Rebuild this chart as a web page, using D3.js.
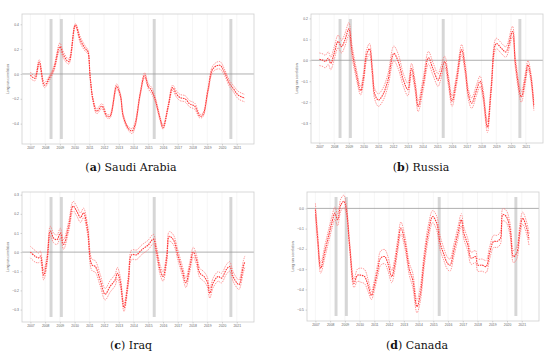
<!DOCTYPE html>
<html>
<head>
<meta charset="utf-8">
<script src="https://cdn.jsdelivr.net/npm/d3@7"></script>
<style>
  body { margin: 0; background: #fff; }
  svg { display: block; }
</style>
</head>
<body>
<div id="chart"></div>
<script>
// each row: [year, long run correlation, half width of the band]
var saudi = [
  [2007.0, -0.01, 0.025], [2007.3, -0.035, 0.02], [2007.6, 0.095, 0.02],
  [2007.95, -0.09, 0.02], [2008.3, -0.03, 0.02], [2008.6, 0.045, 0.02],
  [2009.0, 0.22, 0.03], [2009.25, 0.15, 0.025], [2009.6, 0.10, 0.02],
  [2010.05, 0.395, 0.01], [2010.4, 0.27, 0.025], [2010.75, 0.20, 0.02],
  [2010.9, 0.18, 0.015], [2011.05, -0.02, 0.01], [2011.25, -0.21, 0.015],
  [2011.5, -0.30, 0.02], [2011.85, -0.26, 0.02], [2012.2, -0.34, 0.015],
  [2012.4, -0.34, 0.015], [2012.85, -0.10, 0.02], [2013.1, -0.17, 0.015],
  [2013.3, -0.34, 0.015], [2013.65, -0.44, 0.015], [2013.9, -0.46, 0.02],
  [2014.1, -0.41, 0.02], [2014.45, -0.16, 0.015], [2014.75, -0.01, 0.02],
  [2015.0, -0.10, 0.02], [2015.2, -0.13, 0.025], [2015.45, -0.20, 0.02],
  [2015.8, -0.36, 0.015], [2016.0, -0.43, 0.015], [2016.35, -0.26, 0.015],
  [2016.65, -0.11, 0.02], [2016.9, -0.16, 0.025], [2017.15, -0.19, 0.025],
  [2017.5, -0.20, 0.025], [2017.8, -0.24, 0.025], [2018.15, -0.26, 0.025],
  [2018.5, -0.34, 0.015], [2018.7, -0.33, 0.015], [2019.05, -0.13, 0.02],
  [2019.4, 0.045, 0.025], [2019.85, 0.07, 0.03], [2020.2, 0.005, 0.025],
  [2020.5, -0.075, 0.025], [2020.75, -0.115, 0.025], [2021.1, -0.17, 0.03],
  [2021.55, -0.195, 0.03]
]

var russia = [
  [2007.0, 0.005, 0.03], [2007.25, 0.0, 0.03], [2007.4, -0.006, 0.03],
  [2007.6, 0.01, 0.03], [2007.77, -0.015, 0.03], [2008.0, 0.033, 0.03],
  [2008.27, 0.09, 0.03], [2008.5, 0.065, 0.03], [2008.72, 0.095, 0.03],
  [2009.0, 0.15, 0.03], [2009.2, 0.05, 0.03], [2009.45, -0.045, 0.025],
  [2009.8, -0.145, 0.02], [2010.0, -0.08, 0.025], [2010.2, 0.025, 0.025],
  [2010.4, 0.055, 0.025], [2010.6, -0.06, 0.025], [2010.75, -0.16, 0.025],
  [2011.0, -0.19, 0.03], [2011.3, -0.165, 0.03], [2011.65, -0.095, 0.03],
  [2012.05, 0.033, 0.035], [2012.35, -0.006, 0.035], [2012.7, -0.095, 0.03],
  [2013.0, -0.14, 0.03], [2013.25, -0.04, 0.025], [2013.5, -0.125, 0.025],
  [2013.7, -0.22, 0.025], [2014.05, -0.11, 0.03], [2014.4, 0.012, 0.03],
  [2014.7, -0.04, 0.03], [2015.05, -0.095, 0.03], [2015.2, -0.07, 0.03],
  [2015.5, -0.006, 0.025], [2015.75, -0.095, 0.025], [2016.0, -0.195, 0.025],
  [2016.3, -0.095, 0.025], [2016.65, 0.05, 0.025], [2016.9, -0.045, 0.025],
  [2017.1, -0.16, 0.025], [2017.33, -0.205, 0.025], [2017.67, -0.14, 0.025],
  [2017.9, -0.10, 0.025], [2018.1, -0.16, 0.025], [2018.4, -0.32, 0.025],
  [2018.65, -0.14, 0.025], [2019.0, 0.08, 0.025], [2019.35, 0.057, 0.025],
  [2019.65, 0.04, 0.025], [2020.1, 0.137, 0.025], [2020.3, -0.015, 0.025],
  [2020.7, -0.175, 0.025], [2020.95, -0.095, 0.025], [2021.15, -0.022, 0.02],
  [2021.35, -0.08, 0.02], [2021.55, -0.22, 0.02]
]

var iraq = [
  [2007.0, 0.0, 0.03], [2007.34, -0.023, 0.03], [2007.56, -0.03, 0.025],
  [2007.68, -0.02, 0.025], [2007.9, -0.12, 0.025], [2008.13, -0.04, 0.025],
  [2008.35, 0.11, 0.025], [2008.58, 0.073, 0.025], [2008.8, 0.065, 0.025],
  [2009.03, 0.10, 0.025], [2009.25, 0.04, 0.025], [2009.6, 0.135, 0.025],
  [2009.9, 0.24, 0.025], [2010.15, 0.213, 0.025], [2010.4, 0.18, 0.025],
  [2010.6, 0.205, 0.025], [2010.88, 0.117, 0.025], [2011.17, -0.066, 0.03],
  [2011.4, -0.075, 0.03], [2011.73, -0.145, 0.03], [2012.07, -0.22, 0.03],
  [2012.4, -0.18, 0.03], [2012.75, -0.145, 0.03], [2012.9, -0.11, 0.03],
  [2013.1, -0.155, 0.025], [2013.35, -0.29, 0.02], [2013.65, -0.145, 0.025],
  [2013.87, -0.014, 0.025], [2014.2, -0.014, 0.025], [2014.55, 0.012, 0.025],
  [2015.0, 0.038, 0.025], [2015.34, 0.068, 0.025], [2015.56, 0.003, 0.025],
  [2015.8, -0.092, 0.025], [2016.0, -0.127, 0.025], [2016.25, -0.03, 0.025],
  [2016.42, 0.082, 0.025], [2016.7, 0.065, 0.025], [2017.03, -0.023, 0.025],
  [2017.32, -0.10, 0.025], [2017.55, -0.16, 0.025], [2017.82, -0.075, 0.025],
  [2018.05, 0.0, 0.025], [2018.27, -0.04, 0.025], [2018.5, -0.11, 0.025],
  [2018.77, -0.127, 0.025], [2019.0, -0.155, 0.025], [2019.17, -0.215, 0.025],
  [2019.4, -0.16, 0.025], [2019.74, -0.127, 0.025], [2019.96, -0.136, 0.025],
  [2020.3, -0.09, 0.025], [2020.52, -0.075, 0.025], [2020.75, -0.127, 0.025],
  [2021.0, -0.16, 0.025], [2021.15, -0.17, 0.025], [2021.45, -0.075, 0.03],
  [2021.55, -0.05, 0.03]
]

var canada = [
  [2007.0, -0.005, 0.03], [2007.16, -0.155, 0.03], [2007.36, -0.295, 0.025],
  [2007.65, -0.21, 0.03], [2007.88, -0.14, 0.03], [2008.14, -0.064, 0.03],
  [2008.32, -0.023, 0.03], [2008.5, -0.056, 0.03], [2008.73, 0.018, 0.03],
  [2008.93, 0.035, 0.03], [2009.1, -0.007, 0.025], [2009.33, -0.19, 0.02],
  [2009.62, -0.37, 0.02], [2009.85, -0.33, 0.03], [2010.1, -0.33, 0.035],
  [2010.34, -0.337, 0.035], [2010.57, -0.38, 0.03], [2010.8, -0.43, 0.02],
  [2011.0, -0.38, 0.025], [2011.24, -0.30, 0.03], [2011.42, -0.246, 0.035],
  [2011.7, -0.238, 0.035], [2011.91, -0.27, 0.035], [2012.18, -0.337, 0.03],
  [2012.36, -0.287, 0.03], [2012.59, -0.18, 0.03], [2012.8, -0.097, 0.03],
  [2013.08, -0.17, 0.03], [2013.37, -0.30, 0.03], [2013.6, -0.353, 0.035],
  [2013.89, -0.485, 0.03], [2014.11, -0.427, 0.035], [2014.38, -0.254, 0.035],
  [2014.65, -0.122, 0.035], [2014.96, -0.04, 0.03], [2015.23, -0.073, 0.035],
  [2015.46, -0.17, 0.035], [2015.73, -0.23, 0.03], [2015.95, -0.27, 0.03],
  [2016.13, -0.28, 0.03], [2016.4, -0.205, 0.03], [2016.67, -0.122, 0.03],
  [2016.9, -0.056, 0.03], [2017.07, -0.122, 0.03], [2017.34, -0.18, 0.03],
  [2017.57, -0.246, 0.03], [2017.86, -0.238, 0.03], [2018.02, -0.28, 0.03],
  [2018.31, -0.28, 0.03], [2018.58, -0.287, 0.03], [2018.82, -0.22, 0.03],
  [2019.09, -0.163, 0.03], [2019.32, -0.163, 0.03], [2019.55, -0.147, 0.03],
  [2019.72, -0.031, 0.03], [2019.95, -0.04, 0.03], [2020.21, -0.105, 0.03],
  [2020.44, -0.238, 0.03], [2020.66, -0.22, 0.03], [2020.88, -0.105, 0.03],
  [2021.06, -0.048, 0.03], [2021.33, -0.097, 0.03], [2021.5, -0.155, 0.03]
]

// shaded periods, [start, end] in years
var shaded = [[2008.3, 2008.5], [2009.0, 2009.2], [2015.3, 2015.5], [2020.5, 2020.7]]

var years = d3.range(2007, 2022)
var saudiTicks = [-0.4, -0.2, 0, 0.2, 0.4]
var russiaTicks = [-0.3, -0.2, -0.1, 0, 0.1, 0.2]
var iraqTicks = [-0.3, -0.2, -0.1, 0, 0.1, 0.2, 0.3]
var canadaTicks = [-0.5, -0.4, -0.3, -0.2, -0.1, 0]

var panels = [
  { letter: "a", name: "Saudi Arabia", data: saudi, ticks: saudiTicks, y: [-0.564, 0.483],
    x0: 22, y0: 14, w: 232, h: 130, cx: 131, cy: 171 },
  { letter: "b", name: "Russia", data: russia, ticks: russiaTicks, y: [-0.395, 0.221],
    x0: 311, y0: 14, w: 232, h: 129, cx: 421, cy: 171 },
  { letter: "c", name: "Iraq", data: iraq, ticks: iraqTicks, y: [-0.365, 0.314],
    x0: 22, y0: 192, w: 232, h: 130, cx: 131, cy: 349 },
  { letter: "d", name: "Canada", data: canada, ticks: canadaTicks, y: [-0.556, 0.081],
    x0: 307, y0: 192, w: 232, h: 129, cx: 417, cy: 349 }
]

var svg = d3.select("#chart").append("svg")
  .attr("width", 550)
  .attr("height", 359)

panels.forEach(function (p) {
  var g = svg.append("g").attr("transform", "translate(" + p.x0 + "," + p.y0 + ")")

  var x = d3.scaleLinear().domain([2006.43, 2022.17]).range([0, p.w])
  var y = d3.scaleLinear().domain(p.y).range([p.h, 0])

  // vertical grid
  g.append("g").selectAll("line")
    .data(years)
    .join("line")
    .attr("x1", d => x(d)).attr("x2", d => x(d))
    .attr("y1", 0).attr("y2", p.h)
    .attr("stroke", "#ececec")
    .attr("stroke-width", 0.5)

  // shaded periods
  g.append("g").selectAll("rect")
    .data(shaded)
    .join("rect")
    .attr("x", d => x(d[0]))
    .attr("width", d => x(d[1]) - x(d[0]))
    .attr("y", 5)
    .attr("height", p.h - 10)
    .attr("fill", "#d6d6d6")

  // zero line
  g.append("line")
    .attr("x1", 0).attr("x2", p.w)
    .attr("y1", y(0)).attr("y2", y(0))
    .attr("stroke", "#9a9a9a")
    .attr("stroke-width", 0.8)

  var curve = d3.curveCatmullRom.alpha(0.5)
  var upper = d3.line().x(d => x(d[0])).y(d => y(d[1] + d[2])).curve(curve)
  var lower = d3.line().x(d => x(d[0])).y(d => y(d[1] - d[2])).curve(curve)
  var mid = d3.line().x(d => x(d[0])).y(d => y(d[1])).curve(curve)

  ;[upper, lower].forEach(function (ln) {
    g.append("path")
      .attr("d", ln(p.data))
      .attr("fill", "none")
      .attr("stroke", "#ff7070")
      .attr("stroke-width", 0.75)
      .attr("stroke-dasharray", "1.4,1")
  })

  g.append("path")
    .attr("d", mid(p.data))
    .attr("fill", "none")
    .attr("stroke", "#ff3838")
    .attr("stroke-width", 1.1)
    .attr("stroke-dasharray", "1.6,0.8")

  // frame
  g.append("rect")
    .attr("width", p.w).attr("height", p.h)
    .attr("fill", "none")
    .attr("stroke", "#cfcfcf")
    .attr("stroke-width", 0.8)

  // axes
  var xAxis = g.append("g")
    .attr("transform", "translate(0," + p.h + ")")
    .call(d3.axisBottom(x).tickValues(years).tickFormat(d3.format("d")).tickSize(1.5).tickPadding(1.5))
  var yAxis = g.append("g")
    .call(d3.axisLeft(y).tickValues(p.ticks).tickFormat(d3.format(".1f")).tickSize(1.5).tickPadding(1.5))

  ;[xAxis, yAxis].forEach(function (a) {
    a.select(".domain").remove()
    a.selectAll("line").attr("stroke", "#999").attr("stroke-width", 0.4)
    a.selectAll("text")
      .attr("fill", "#666")
      .style("font-family", "'Liberation Sans', Arial, sans-serif")
      .style("font-size", "3.4px")
  })

  g.append("text")
    .attr("transform", "translate(-13," + (p.h / 2) + ") rotate(-90)")
    .attr("text-anchor", "middle")
    .attr("fill", "#666")
    .style("font-family", "'Liberation Sans', Arial, sans-serif")
    .style("font-size", "3.4px")
    .text("Long run correlation")

  // caption
  var cap = svg.append("text")
    .attr("x", p.cx)
    .attr("y", p.cy)
    .attr("text-anchor", "middle")
    .style("font-family", "'DejaVu Serif', 'Liberation Serif', serif")
    .style("font-size", "11px")
    .attr("fill", "#111")
  cap.append("tspan").text("(")
  cap.append("tspan").attr("font-weight", "bold").text(p.letter)
  cap.append("tspan").text(") " + p.name)
})
</script>
</body>
</html>
